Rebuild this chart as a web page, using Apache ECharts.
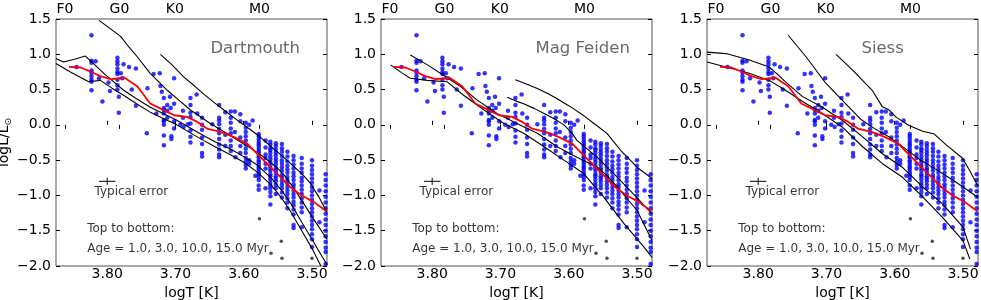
<!DOCTYPE html>
<html><head><meta charset="utf-8">
<script src="https://cdn.jsdelivr.net/npm/echarts@6/dist/echarts.min.js"></script>
<style>html,body{margin:0;padding:0;background:#fff}#c{width:981px;height:300px}</style>
</head><body><div id="c"></div>
<script>
const FONT = 'DejaVu Sans';
const xTicks = [3.5, 3.6, 3.7, 3.8];
const spectralTypes = ['F0', 'G0', 'K0', 'M0'];
const spectralLogT = [3.862, 3.782, 3.701, 3.577];
const modelNames = ['Dartmouth', 'Mag Feiden', 'Siess'];

// observed stars (scattered part)
const starsScattered = [
[3.845,0.82],
[3.823,1.27],[3.823,0.91],[3.823,0.88],[3.823,0.77],[3.823,0.74],[3.823,0.69],[3.823,0.64],[3.823,0.61],[3.823,0.49],
[3.817,0.90],[3.812,0.66],[3.807,0.33],[3.798,0.60],[3.796,0.48],
[3.785,0.95],[3.785,0.90],[3.785,0.86],[3.785,0.80],[3.785,0.75],[3.785,0.72],[3.785,0.64],[3.785,0.56],[3.785,0.50],[3.783,0.40],[3.783,0.17],
[3.780,0.73],[3.778,0.66],[3.776,0.86],[3.768,0.82],[3.764,0.50],[3.758,0.80],[3.758,0.27],
[3.741,0.52],[3.742,-0.12],[3.732,0.72],[3.728,0.16],[3.723,0.73],
[3.722,0.55],[3.720,0.47],[3.717,0.38],[3.717,0.24],[3.717,0.21],[3.717,0.16],[3.717,0.07],[3.717,0.05],[3.717,0.00],[3.717,-0.15],[3.717,-0.29],
[3.712,0.28],[3.712,0.20],[3.712,0.10],[3.708,0.40],[3.707,0.24],[3.706,-0.16],[3.706,-0.20],
[3.702,0.66],[3.702,0.30],[3.702,0.05],[3.702,-0.05],
[3.693,0.00],[3.689,0.20],[3.689,0.10],[3.688,-0.03],[3.682,0.01],
[3.678,0.38],[3.678,0.28],[3.678,0.17],[3.678,0.11],[3.678,0.02],[3.678,-0.08],[3.678,-0.17],[3.678,-0.25],
[3.669,0.43],[3.668,0.16],
[3.661,0.10],[3.661,0.00],[3.661,-0.07],[3.661,-0.18],[3.661,-0.27],[3.661,-0.40],[3.661,-0.45],
[3.646,0.01],
[3.636,0.28],[3.636,0.10],[3.636,0.06],[3.636,0.01],[3.636,-0.06],[3.636,-0.12],[3.636,-0.20],[3.636,-0.28],[3.636,-0.35],[3.636,-0.42],[3.636,-0.46],
[3.627,0.18],[3.627,-0.14],[3.627,-0.30],
[3.619,0.19],[3.619,0.10],[3.619,0.03],[3.619,-0.05],[3.619,-0.12],[3.619,-0.22],[3.619,-0.30],[3.619,-0.37],
[3.613,0.19],[3.613,-0.10],[3.612,-0.46],
[3.605,0.15],[3.605,0.05],[3.605,-0.18],[3.605,-0.30],[3.605,-0.40],
[3.597,0.03],[3.597,-0.04],[3.597,-0.10],[3.597,-0.16],[3.597,-0.22],[3.597,-0.28],[3.597,-0.34],[3.597,-0.40],[3.597,-0.47],[3.597,-0.52],[3.597,-0.57],[3.597,-0.62],
[3.592,0.00],[3.592,-0.50],[3.592,-0.55],[3.587,0.06],[3.583,-0.72]
];
// observed stars (dense M-type columns)
const columnLogT = [3.578, 3.568, 3.561, 3.553, 3.544, 3.536, 3.527, 3.515, 3.500, 3.489, 3.480];
const columnLogL = [
[-0.13,-0.16,-0.20,-0.24,-0.27,-0.30,-0.34,-0.37,-0.40,-0.44,-0.46,-0.50,-0.53,-0.57,-0.60,-0.63,-0.67,-0.70,-0.74,-0.78,-0.86,-0.92],
[-0.22,-0.32,-0.42,-0.47,-0.55,-0.62,-0.90],
[-0.24,-0.28,-0.33,-0.36,-0.40,-0.45,-0.49,-0.53,-0.58,-0.61,-0.65,-0.70,-0.73,-0.77,-0.82,-0.86,-0.90,-0.95,-1.01,-1.13],
[-0.26,-0.30,-0.35,-0.39,-0.43,-0.48,-0.52,-0.56,-0.61,-0.64,-0.68,-0.73,-0.76,-0.80,-0.85,-0.90,-0.98],
[-0.27,-0.33,-0.38,-0.44,-0.50,-0.55,-0.60,-0.65,-0.71,-0.75,-0.80,-0.85,-0.90,-0.96,-1.03],
[-0.38,-0.45,-0.52,-0.58,-0.63,-0.68,-0.74,-0.78,-0.83,-0.88,-0.93,-0.98,-1.04,-1.10,-1.18],
[-0.44,-0.50,-0.56,-0.62,-0.68,-0.73,-0.78,-0.84,-0.88,-0.93,-0.98,-1.03,-1.09,-1.14,-1.20,-1.27,-1.42,-1.46],
[-0.47,-0.55,-0.62,-0.68,-0.75,-0.80,-0.86,-0.92,-0.98,-1.04,-1.10,-1.17,-1.24,-1.45],
[-0.50,-0.58,-0.64,-0.70,-0.76,-0.82,-0.88,-0.94,-1.00,-1.06,-1.12,-1.18,-1.24,-1.30,-1.36,-1.42,-1.48,-1.55,-1.62,-1.73],
[-0.93,-1.38],
[-0.70,-0.78,-0.86,-0.94,-1.02,-1.10,-1.18,-1.26,-1.34,-1.42,-1.50,-1.58,-1.66,-1.74,-1.80,-1.97]
];
// faint stars (black dots)
const faintStars = [[3.577,-1.33],[3.560,-1.82],[3.545,-1.65],[3.544,-1.89],[3.500,-1.89]];
// median sequence (red)
const medianLine = [[3.856,0.823],[3.839,0.813],[3.824,0.752],[3.810,0.690],[3.795,0.648],[3.785,0.657],[3.775,0.671],[3.766,0.610],[3.756,0.548],[3.746,0.420],[3.737,0.303],[3.717,0.208],[3.702,0.136],[3.683,0.113],[3.668,0.042],[3.654,-0.053],[3.634,-0.100],[3.615,-0.171],[3.595,-0.266],[3.578,-0.432],[3.561,-0.598],[3.546,-0.740],[3.532,-0.882],[3.515,-1.000],[3.497,-1.095],[3.479,-1.223]];
// typical error bar
const errCenter = [3.80, -0.80];
const errHalf = [0.012, 0.05];

// isochrones 1, 3, 10, 15 Myr
const dartmouth1 = [[3.722,1.00],[3.705,0.85],[3.688,0.68],[3.672,0.55],[3.659,0.44],[3.645,0.33],[3.629,0.21],[3.610,0.07],[3.590,-0.07],[3.575,-0.18],[3.561,-0.30],[3.545,-0.43],[3.530,-0.56],[3.515,-0.69],[3.503,-0.82],[3.490,-1.02],[3.478,-1.24]];
const dartmouth3 = [[3.812,1.48],[3.795,1.36],[3.780,1.25],[3.768,1.10],[3.756,0.965],[3.737,0.73],[3.712,0.49],[3.695,0.35],[3.678,0.21],[3.649,0.02],[3.630,-0.09],[3.610,-0.21],[3.590,-0.33],[3.570,-0.46],[3.552,-0.60],[3.540,-0.72],[3.528,-0.88],[3.515,-1.07],[3.500,-1.30],[3.478,-1.62]];
const dartmouth10 = [[3.875,0.94],[3.864,0.89],[3.848,0.93],[3.832,0.975],[3.818,0.85],[3.805,0.73],[3.776,0.49],[3.757,0.37],[3.737,0.25],[3.718,0.16],[3.698,0.065],[3.679,-0.04],[3.659,-0.15],[3.640,-0.25],[3.620,-0.34],[3.600,-0.45],[3.580,-0.57],[3.560,-0.75],[3.545,-0.92],[3.530,-1.13],[3.515,-1.38],[3.500,-1.62],[3.485,-1.87],[3.478,-1.98]];
const dartmouth15 = [[3.875,0.87],[3.854,0.75],[3.827,0.61],[3.810,0.63],[3.793,0.52],[3.776,0.42],[3.757,0.30],[3.737,0.18],[3.718,0.09],[3.698,0.00],[3.679,-0.11],[3.659,-0.22],[3.640,-0.32],[3.620,-0.42],[3.600,-0.53],[3.580,-0.67],[3.560,-0.85],[3.545,-1.03],[3.530,-1.25],[3.515,-1.50],[3.500,-1.75],[3.487,-2.00]];

const feiden1 = [[3.678,0.64],[3.662,0.58],[3.646,0.515],[3.630,0.44],[3.617,0.37],[3.605,0.30],[3.593,0.23],[3.578,0.13],[3.563,0.02],[3.544,-0.12],[3.534,-0.24],[3.524,-0.36],[3.512,-0.48],[3.500,-0.60],[3.478,-0.76]];
const feiden3 = [[3.690,0.39],[3.678,0.34],[3.666,0.30],[3.650,0.23],[3.636,0.16],[3.620,0.08],[3.607,0.00],[3.595,-0.12],[3.588,-0.22],[3.573,-0.34],[3.558,-0.46],[3.544,-0.60],[3.529,-0.74],[3.517,-0.86],[3.505,-0.98],[3.478,-1.26]];
const feiden10 = [[3.832,0.99],[3.807,0.85],[3.783,0.70],[3.758,0.54],[3.734,0.35],[3.705,0.16],[3.676,0.02],[3.646,-0.12],[3.617,-0.31],[3.588,-0.46],[3.558,-0.60],[3.544,-0.72],[3.529,-0.88],[3.515,-1.04],[3.500,-1.21],[3.478,-1.64]];
const feiden15 = [[3.861,0.85],[3.845,0.74],[3.832,0.66],[3.807,0.63],[3.778,0.61],[3.754,0.42],[3.724,0.21],[3.695,0.02],[3.666,-0.12],[3.636,-0.31],[3.607,-0.50],[3.578,-0.69],[3.549,-1.02],[3.519,-1.40],[3.490,-1.73],[3.478,-1.88]];

const siess1 = [[3.686,1.00],[3.672,0.87],[3.657,0.73],[3.645,0.61],[3.633,0.49],[3.618,0.255],[3.608,0.21],[3.598,0.11],[3.579,-0.01],[3.559,-0.09],[3.542,-0.13],[3.525,-0.28],[3.501,-0.47],[3.490,-0.65],[3.478,-0.87]];
const siess3 = [[3.756,1.27],[3.730,0.965],[3.701,0.59],[3.672,0.30],[3.650,0.08],[3.630,-0.05],[3.610,-0.16],[3.591,-0.29],[3.562,-0.50],[3.533,-0.67],[3.503,-0.86],[3.478,-1.03]];
const siess10 = [[3.875,1.03],[3.847,1.01],[3.813,0.92],[3.784,0.82],[3.772,0.72],[3.760,0.61],[3.735,0.40],[3.706,0.25],[3.677,0.065],[3.647,-0.17],[3.618,-0.41],[3.589,-0.60],[3.559,-0.88],[3.530,-1.12],[3.500,-1.45],[3.489,-1.76]];
const siess15 = [[3.875,0.89],[3.847,0.82],[3.813,0.73],[3.784,0.63],[3.764,0.515],[3.735,0.33],[3.706,0.16],[3.677,-0.03],[3.647,-0.31],[3.618,-0.55],[3.589,-0.74],[3.559,-1.02],[3.530,-1.31],[3.500,-1.64],[3.490,-1.90]];

const isochrones = [
  [dartmouth1, dartmouth3, dartmouth10, dartmouth15],
  [feiden1, feiden3, feiden10, feiden15],
  [siess1, siess3, siess10, siess15]
];

// ---------- build ----------
const X_MIN = 3.478, X_MAX = 3.875;
const gridLefts = [56, 381, 707];
const observed = starsScattered.slice();
columnLogT.forEach((t, i) => columnLogL[i].forEach(l => observed.push([t, l])));

const grid = [], xAxis = [], yAxis = [], series = [];
const tickStyle = {inside: true, length: 4, lineStyle: {color: '#000', width: 1}};
const fmtY = v => (v < 0 ? '\u2212' : '') + Math.abs(v).toFixed(1);

function textSeries(p, pos, text, size, color) {
  return {type: 'scatter', xAxisIndex: 2*p, yAxisIndex: 2*p, symbolSize: 0, silent: true, z: 6,
    data: [pos],
    label: {show: true, formatter: text, position: [0, 0], align: 'left', verticalAlign: 'middle',
      fontSize: size, color: color, fontFamily: FONT}};
}

for (let p = 0; p < 3; p++) {
  grid.push({left: gridLefts[p], top: 19, width: 271, height: 247, show: true, containLabel: false,
    outerBoundsMode: 'none',
    borderColor: '#555', borderWidth: 1, backgroundColor: 'transparent'});
  xAxis.push({gridIndex: p, type: 'value', position: 'bottom', min: X_MIN, max: X_MAX, inverse: true,
    axisLine: {show: false}, splitLine: {show: false},
    axisTick: Object.assign({customValues: xTicks}, tickStyle),
    axisLabel: {customValues: xTicks, formatter: v => v.toFixed(2), fontSize: 14, color: '#000', margin: 1, fontFamily: FONT},
    name: 'logT [K]', nameLocation: 'middle', nameGap: 12,
    nameTextStyle: {fontSize: 14, color: '#000', fontFamily: FONT}});
  xAxis.push({gridIndex: p, type: 'value', position: 'top', min: X_MIN, max: X_MAX, inverse: true,
    axisLine: {show: false}, splitLine: {show: false},
    axisTick: Object.assign({customValues: spectralLogT}, tickStyle),
    axisLabel: {customValues: spectralLogT, fontSize: 14, color: '#000', margin: 3, fontFamily: FONT,
      formatter: v => {
        let best = 0;
        spectralLogT.forEach((s, i) => { if (Math.abs(s - v) < Math.abs(spectralLogT[best] - v)) best = i; });
        return spectralTypes[best];
      }}});
  yAxis.push(Object.assign({gridIndex: p, type: 'value', position: 'left', min: -2, max: 1.5, interval: 0.5,
    axisLine: {show: false}, splitLine: {show: false}, axisTick: tickStyle,
    axisLabel: {formatter: fmtY, fontSize: 14, color: '#000', margin: 5, fontFamily: FONT}},
    p === 0 ? {name: '{a|logL/L}{b|\u2299}', nameLocation: 'middle', nameGap: 31,
      nameTextStyle: {color: '#000', fontFamily: FONT, fontSize: 14,
        rich: {a: {fontSize: 14, fontFamily: FONT, color: '#000', lineHeight: 18},
               b: {fontSize: 9, fontFamily: FONT, color: '#000', lineHeight: 18, verticalAlign: 'bottom', padding: [6, 0, 0, 0]}}}} : {}));
  yAxis.push({gridIndex: p, type: 'value', position: 'right', min: -2, max: 1.5, interval: 0.5,
    axisLine: {show: false}, splitLine: {show: false}, axisTick: tickStyle, axisLabel: {show: false}});

  const xi = 2*p, yi = 2*p;
  series.push({type: 'scatter', xAxisIndex: xi, yAxisIndex: yi, data: observed, symbolSize: 4.5,
    itemStyle: {color: '#0000ff'}, z: 2, silent: true});
  series.push({type: 'scatter', xAxisIndex: xi, yAxisIndex: yi, data: faintStars, symbolSize: 3.5,
    itemStyle: {color: '#222'}, z: 2, silent: true});
  isochrones[p].forEach(iso => series.push({type: 'line', xAxisIndex: xi, yAxisIndex: yi, data: iso,
    symbol: 'none', lineStyle: {color: '#000', width: 1.1}, z: 3, silent: true}));
  series.push({type: 'line', xAxisIndex: xi, yAxisIndex: yi, data: medianLine, symbol: 'none',
    lineStyle: {color: '#ff0000', width: 1.8}, z: 4, silent: true});
  series.push({type: 'line', xAxisIndex: xi, yAxisIndex: yi, symbol: 'none', silent: true, z: 4,
    data: [[errCenter[0] + errHalf[0], errCenter[1]], [errCenter[0] - errHalf[0], errCenter[1]]],
    lineStyle: {color: '#000', width: 1}});
  series.push({type: 'line', xAxisIndex: xi, yAxisIndex: yi, symbol: 'none', silent: true, z: 4,
    data: [[errCenter[0], errCenter[1] + errHalf[1]], [errCenter[0], errCenter[1] - errHalf[1]]],
    lineStyle: {color: '#000', width: 1}});
  series.push(textSeries(p, [3.8186, -0.953], 'Typical error', 12, '#000'));
  series.push(textSeries(p, [3.8293, -1.469], 'Top to bottom:', 12, '#000'));
  series.push(textSeries(p, [3.8293, -1.757], 'Age = 1.0, 3.0, 10.0, 15.0 Myr', 12, '#000'));
  series.push(textSeries(p, [3.6488, 1.084], modelNames[p], 16.5, '#444'));
}

const chart = echarts.init(document.getElementById('c'), null, {renderer: 'canvas'});
chart.setOption({animation: false, backgroundColor: '#fff', grid, xAxis, yAxis, series});
</script></body></html>
